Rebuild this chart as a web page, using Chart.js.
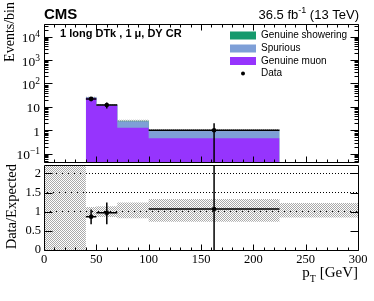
<!DOCTYPE html>
<html>
<head>
<meta charset="utf-8">
<script src="https://cdn.jsdelivr.net/npm/chart.js@4.4.1/dist/chart.umd.min.js"></script>
<style>
  html, body { margin: 0; padding: 0; background: #fff; }
  #wrap { position: relative; width: 374px; height: 301px; overflow: hidden; }
  #top { position: absolute; left: 0; top: 0; }
  #bottom { position: absolute; left: 0; top: 150px; }
</style>
</head>
<body>
<div id="wrap">
  <canvas id="top" width="374" height="166"></canvas>
  <canvas id="bottom" width="374" height="151"></canvas>
</div>
<script>
// histogram bins, pT [GeV]
const binEdges = [40, 50, 70, 100, 225];
const genuineMuon = [24.3, 11.5, 1.28, 0.46];
const spurious = [1.0, 0.6, 1.18, 0.5];
const genuineShowering = [0.5, 0.3, 0.12, 0.04];
const dataCounts = [22, 12, 0, 1];
// relative MC uncertainty drawn on top of the stack
const mcUncLo = [0.96, 0.94, 0.92, 0.9];
const mcUncHi = [1.04, 1.06, 1.08, 1.12];

// ratio panel
const ratioEdges = [0, 40, 50, 70, 100, 225, 300];
const ratioUncLo = [0, 0.88, 0.86, 0.83, 0.74, 0.85];
const ratioUncHi = [3, 1.12, 1.14, 1.24, 1.33, 1.23];
const ratioX = [45, 60, 162.5];
const ratioXLo = [40, 50, 100];
const ratioXHi = [50, 70, 225];
const ratioVal = [0.87, 0.97, 1.07];
const ratioErrLo = [0.67, 0.67, 0];
const ratioErrHi = [1.06, 1.24, 3];

// axes
const xTicks = [0, 50, 100, 150, 200, 250, 300];
const yTicks = [0.1, 1, 10, 100, 1000, 10000];
const yTickLabels = [["10", "\u22121"], ["1", ""], ["10", ""], ["10", "2"], ["10", "3"], ["10", "4"]];
const ratioTicks = [0, 0.5, 1, 1.5, 2];
const ratioTickLabels = ["0", "0.5", "1", "1.5", "2"];

const legendLabels = ["Genuine showering", "Spurious", "Genuine muon", "Data"];
const colors = { showering: "#169a6d", spurious: "#7e9fd7", muon: "#9634fd" };

const Y_MIN = 0.044, Y_MAX = 35000;
const R_MAX = 2.22;

const SERIF = '"Liberation Serif", "Times New Roman", serif';
const SANS = '"Liberation Sans", Arial, sans-serif';
Chart.defaults.font.family = SERIF;
Chart.defaults.color = "#000";

function steps(edges, vals) {
  const pts = vals.map((v, i) => ({ x: edges[i], y: v }));
  pts.push({ x: edges[edges.length - 1], y: vals[vals.length - 1] });
  return pts;
}

function errorBars(xs, xlo, xhi, ys, ylo, yhi) {
  const pts = [];
  xs.forEach((x, i) => {
    pts.push({ x: x, y: ylo[i] }, { x: x, y: yhi[i] }, { x: x, y: null });
    pts.push({ x: xlo[i], y: ys[i] }, { x: xhi[i], y: ys[i] }, { x: xhi[i], y: null });
  });
  return pts;
}

function checker(color) {
  const c = document.createElement("canvas");
  c.width = 2;
  c.height = 2;
  const g = c.getContext("2d");
  g.fillStyle = color;
  g.fillRect(0, 0, 1, 1);
  g.fillRect(1, 1, 1, 1);
  return g.createPattern(c, "repeat");
}
const hatch = checker("#a9a9a9");

// stacked sums and uncertainty band for the top panel
const stackMuSp = genuineMuon.map((v, i) => v + spurious[i]);
const stackAll = stackMuSp.map((v, i) => v + genuineShowering[i]);
const hatchLo = stackAll.map((v, i) => v * mcUncLo[i]);
const hatchHi = stackAll.map((v, i) => v * mcUncHi[i]);

const dataBins = dataCounts.map((n, i) => i).filter(i => dataCounts[i] > 0);
const dataX = dataBins.map(i => (binEdges[i] + binEdges[i + 1]) / 2);
const dataXLo = dataBins.map(i => binEdges[i]);
const dataXHi = dataBins.map(i => binEdges[i + 1]);
const dataY = dataBins.map(i => dataCounts[i]);
const dataLo = dataY.map(n => Math.max(n - Math.sqrt(n), Y_MIN / 10));
const dataHi = dataY.map(n => n + Math.sqrt(n));

// ROOT-like frame with inward ticks
const rootFrame = {
  id: "rootFrame",
  afterDatasetsDraw(chart, args, o) {
    const { ctx, chartArea: a } = chart;
    const xs = chart.scales.x, ys = chart.scales.y;
    const L = Math.round(a.left) + 0.5, R = Math.round(a.right) + 0.5;
    const T = Math.round(a.top) + 0.5, B = Math.round(a.bottom) + 0.5;
    ctx.save();
    ctx.strokeStyle = "#000";
    ctx.lineWidth = 1;
    ctx.beginPath();
    const xt = (v, len) => {
      const p = Math.round(xs.getPixelForValue(v)) + 0.5;
      ctx.moveTo(p, B); ctx.lineTo(p, B - len);
      if (o.topTicks) { ctx.moveTo(p, T); ctx.lineTo(p, T + len); }
    };
    const yt = (v, len) => {
      const p = Math.round(ys.getPixelForValue(v)) + 0.5;
      ctx.moveTo(L, p); ctx.lineTo(L + len, p);
      ctx.moveTo(R, p); ctx.lineTo(R - len, p);
    };
    for (let v = 0; v <= 300; v += 10) xt(v, v % 50 === 0 ? 6 : 3);
    o.yMajor.forEach(v => yt(v, 8));
    (o.yMinor || []).forEach(v => yt(v, 4));
    ctx.rect(L, T, R - L, B - T);
    ctx.stroke();
    ctx.restore();
  }
};

const logMinor = [];
for (let d = -2; d <= 4; d++) {
  for (let m = 2; m <= 9; m++) {
    const v = m * Math.pow(10, d);
    if (v > Y_MIN && v < Y_MAX) logMinor.push(v);
  }
}

function drawSup(ctx, base, sup, xRight, y, size, supSize, raise, family) {
  ctx.font = size + "px " + family;
  const wb = ctx.measureText(base).width;
  ctx.font = supSize + "px " + family;
  const ws = sup ? ctx.measureText(sup).width : 0;
  ctx.textAlign = "left";
  ctx.font = size + "px " + family;
  ctx.fillText(base, xRight - ws - wb, y);
  if (sup) {
    ctx.font = supSize + "px " + family;
    ctx.fillText(sup, xRight - ws, y - raise);
  }
}

const upperText = {
  id: "upperText",
  afterDraw(chart) {
    const ctx = chart.ctx;
    const ys = chart.scales.y;
    ctx.save();
    ctx.fillStyle = "#000";
    ctx.textBaseline = "alphabetic";

    // y tick labels
    yTicks.forEach((v, i) => {
      const p = ys.getPixelForValue(v);
      drawSup(ctx, yTickLabels[i][0], yTickLabels[i][1], 40, p + 5.5, 13.5, 9.5, 5, SERIF);
    });

    // y title
    ctx.save();
    ctx.font = "14px " + SERIF;
    ctx.translate(13.5, 2);
    ctx.rotate(-Math.PI / 2);
    ctx.textAlign = "right";
    ctx.fillText("Events/bin", 0, 0);
    ctx.restore();

    // CMS + lumi
    ctx.textAlign = "left";
    ctx.font = "bold 15px " + SANS;
    ctx.fillText("CMS", 44, 19);
    ctx.font = "13px " + SANS;
    const w1 = ctx.measureText("36.5 fb").width;
    const w3 = ctx.measureText(" (13 TeV)").width;
    ctx.font = "9px " + SANS;
    const w2 = ctx.measureText("-1").width;
    let x0 = 359 - w1 - w2 - w3;
    ctx.font = "13px " + SANS;
    ctx.fillText("36.5 fb", x0, 18.5);
    ctx.fillText(" (13 TeV)", x0 + w1 + w2, 18.5);
    ctx.font = "9px " + SANS;
    ctx.fillText("-1", x0 + w1, 13);

    // region label
    ctx.font = "bold 11px " + SANS;
    ctx.fillText("1 long DTk , 1 \u03bc, DY CR", 60, 37);

    // legend
    const rows = [35.5, 48.5, 61, 73.5];
    const sw = [colors.showering, colors.spurious, colors.muon];
    sw.forEach((c, i) => {
      ctx.fillStyle = c;
      ctx.fillRect(230, rows[i] - 4, 26, 8);
    });
    ctx.fillStyle = "#000";
    ctx.beginPath();
    ctx.arc(243, rows[3], 2, 0, Math.PI * 2);
    ctx.fill();
    ctx.font = "10px " + SANS;
    ctx.textBaseline = "middle";
    legendLabels.forEach((t, i) => ctx.fillText(t, 261, rows[i]));
    ctx.restore();
  }
};

const lowerText = {
  id: "lowerText",
  afterDraw(chart) {
    const ctx = chart.ctx;
    ctx.save();
    ctx.fillStyle = "#000";
    ctx.textBaseline = "alphabetic";
    ctx.save();
    ctx.font = "14.5px " + SERIF;
    ctx.translate(15.5, 14);
    ctx.rotate(-Math.PI / 2);
    ctx.textAlign = "right";
    ctx.fillText("Data/Expected", 0, 0);
    ctx.restore();

    ctx.textAlign = "left";
    ctx.font = "15px " + SERIF;
    const wp = ctx.measureText("p").width;
    const wg = ctx.measureText(" [GeV]").width;
    ctx.font = "10px " + SERIF;
    const wt = ctx.measureText("T").width;
    const x0 = 358 - wp - wt - wg;
    ctx.font = "15px " + SERIF;
    ctx.fillText("p", x0, 127);
    ctx.fillText(" [GeV]", x0 + wp + wt, 127);
    ctx.font = "10px " + SERIF;
    ctx.fillText("T", x0 + wp, 132);
    ctx.restore();
  }
};

const lineBase = { borderWidth: 0, borderColor: "transparent", pointRadius: 0, stepped: true };

new Chart(document.getElementById("top"), {
  type: "line",
  data: {
    datasets: [
      {
        data: errorBars(dataX, dataXLo, dataXHi, dataY, dataLo, dataHi),
        borderColor: "#000",
        borderWidth: 1.5,
        pointRadius: 0,
        spanGaps: false,
        fill: false,
      },
      {
        data: dataX.map((x, i) => ({ x: x, y: dataY[i] })),
        showLine: false,
        pointRadius: 2.3,
        pointBackgroundColor: "#000",
        pointBorderColor: "#000",
        pointBorderWidth: 0,
      },
      Object.assign({ data: steps(binEdges, hatchHi), fill: "+1", backgroundColor: hatch }, lineBase),
      Object.assign({ data: steps(binEdges, hatchLo), fill: false }, lineBase),
      Object.assign({ data: steps(binEdges, genuineMuon), fill: "start", backgroundColor: colors.muon }, lineBase),
      Object.assign({ data: steps(binEdges, stackMuSp), fill: "start", backgroundColor: colors.spurious }, lineBase),
      Object.assign({ data: steps(binEdges, stackAll), fill: "start", backgroundColor: colors.showering }, lineBase),
    ],
  },
  options: {
    responsive: false,
    animation: false,
    events: [],
    layout: { padding: { top: 24, right: 16, bottom: 1, left: 0 } },
    plugins: {
      legend: { display: false },
      tooltip: { enabled: false },
      rootFrame: { topTicks: true, yMajor: yTicks, yMinor: logMinor },
    },
    scales: {
      x: { type: "linear", min: 0, max: 300, display: false },
      y: {
        type: "logarithmic",
        min: Y_MIN,
        max: Y_MAX,
        bounds: "data",
        ticks: { display: false },
        grid: { display: false },
        border: { display: false },
        afterFit: (s) => { s.width = 44; },
      },
    },
  },
  plugins: [rootFrame, upperText],
});

new Chart(document.getElementById("bottom"), {
  type: "line",
  data: {
    datasets: [
      {
        data: errorBars(ratioX, ratioXLo, ratioXHi, ratioVal, ratioErrLo, ratioErrHi),
        borderColor: "#000",
        borderWidth: 1.5,
        pointRadius: 0,
        spanGaps: false,
        fill: false,
      },
      {
        data: ratioX.map((x, i) => ({ x: x, y: ratioVal[i] })),
        showLine: false,
        pointRadius: 2.3,
        pointBackgroundColor: "#000",
        pointBorderColor: "#000",
        pointBorderWidth: 0,
      },
      Object.assign({ data: steps(ratioEdges, ratioUncHi), fill: "+1", backgroundColor: hatch }, lineBase),
      Object.assign({ data: steps(ratioEdges, ratioUncLo), fill: false }, lineBase),
    ],
  },
  options: {
    responsive: false,
    animation: false,
    events: [],
    layout: { padding: { top: 15, right: 16, bottom: 0, left: 0 } },
    plugins: {
      legend: { display: false },
      tooltip: { enabled: false },
      rootFrame: { topTicks: false, yMajor: ratioTicks },
    },
    scales: {
      x: {
        type: "linear",
        min: 0,
        max: 300,
        afterBuildTicks: (s) => { s.ticks = xTicks.map(v => ({ value: v })); },
        ticks: { font: { size: 12.5 }, padding: 2, maxRotation: 0, autoSkip: false },
        grid: { display: false, drawTicks: false },
        border: { display: false },
        afterFit: (s) => { s.height = 51; },
      },
      y: {
        type: "linear",
        min: 0,
        max: R_MAX,
        afterBuildTicks: (s) => { s.ticks = ratioTicks.map(v => ({ value: v })); },
        ticks: {
          font: { size: 12.5 },
          padding: 3,
          callback: (v, i) => ratioTickLabels[i],
        },
        grid: {
          drawTicks: false,
          color: (c) => (c.tick && c.tick.value >= 1 ? "#000" : "transparent"),
        },
        border: { display: false, dash: [1, 2] },
        afterFit: (s) => { s.width = 44; },
      },
    },
  },
  plugins: [rootFrame, lowerText],
});
</script>
</body>
</html>
